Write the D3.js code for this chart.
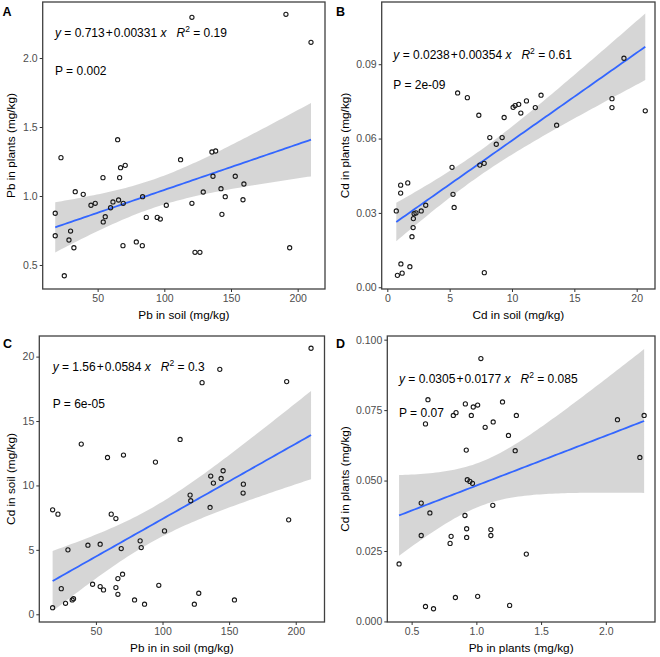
<!DOCTYPE html>
<html><head><meta charset="utf-8">
<script src="https://cdn.jsdelivr.net/npm/d3@7"></script>
<style>
body{margin:0;background:#fff}
svg{display:block}
text{font-family:"Liberation Sans",Arial,sans-serif}
</style>
</head><body>
<svg id="c" width="660" height="657"></svg>
<script>
// ---------------- DATA ----------------
// Panel A: Pb in soil vs Pb in plants
const pbSoilA = [120.7,191.2,210,65,22.5,112.2,135.7,138.5,67.2,70.7,54,66.5,136.5,153.2,159.7,33.2,39.2,142.5,145.7,129.2,83.7,61.5,65.7,48.2,45,59.7,69.2,101.5,120.7,159,18.2,55.7,86.5,94.7,97,143.2,54.2,18.2,29.7,28.5,32.2,25,69,79,83.5,123,126.7,194];
const pbPlantsA = [2.295,2.317,2.114,1.408,1.278,1.263,1.319,1.326,1.205,1.222,1.133,1.133,1.143,1.143,1.087,1.031,1.012,1.053,0.995,1.029,0.995,0.957,0.971,0.947,0.933,0.915,0.947,0.933,0.947,0.973,0.875,0.85,0.845,0.845,0.833,0.867,0.812,0.712,0.746,0.681,0.625,0.422,0.64,0.667,0.64,0.592,0.592,0.625];
// Panel B: Cd in soil vs Cd in plants
const cdSoilB = [0.72,1.07,1.64,1.07,2.15,2.3,2.72,3.08,2.09,2.07,1.98,1.09,1.81,0.81,1.19,7.78,5.19,5.27,5.36,7.42,7.77,5.64,6.42,7.34,8.22,9.21,8.74,9.37,10.09,10.25,10.54,10.71,11.16,11.87,12.33,13.58,18.98,18.02,18.02,20.69];
const cdPlantsB = [0.0308,0.0412,0.0421,0.038,0.0297,0.03,0.0308,0.0331,0.0277,0.0241,0.0204,0.0094,0.0083,0.0048,0.0057,0.0059,0.0484,0.0375,0.0322,0.0493,0.05,0.0784,0.0765,0.0694,0.0604,0.0604,0.0577,0.0685,0.0726,0.0733,0.0738,0.0703,0.0752,0.0725,0.0775,0.0654,0.0924,0.0761,0.0725,0.0712];
// Panel C: Pb in soil vs Cd in soil
const pbSoilC = [211.5,193.2,143,129.7,39,113.2,58.7,70.7,94.7,136.2,145.5,144,138.2,160.7,160.5,120.7,121.2,135.7,194.7,17.5,21.5,61.5,65,101.5,29,44,53.2,69,83.2,84,24,17.5,27.2,32.2,33.2,47.5,53.2,55.7,65,66.5,70,66.5,79,86.5,97.2,127.2,123.9,154];
const cdSoilC = [20.65,18.06,19.01,17.98,13.21,13.57,12.17,12.36,11.81,10.73,11.14,10.54,10.18,10.1,9.41,9.25,8.81,8.29,7.33,8.11,7.77,7.77,7.43,6.47,5.0,5.36,5.44,5.1,5.7,5.18,1.99,0.51,0.85,1.11,1.21,2.33,2.15,1.89,2.07,2.77,3.11,1.55,1.11,0.78,2.25,1.63,0.78,1.11];
// Panel D: Pb in plants vs Cd in plants
const pbPlantsD = [1.035,0.626,0.607,0.822,0.843,0.915,0.961,0.976,1.01,1.068,1.13,1.202,1.309,1.248,1.3,0.922,2.09,2.296,2.263,0.93,0.95,0.97,0.574,0.641,0.574,0.912,1.127,0.925,0.925,0.805,0.797,1.112,1.112,1.386,0.403,0.838,1.01,0.607,0.669,1.257];
const cdPlantsD = [0.0933,0.0787,0.0701,0.0731,0.0741,0.0772,0.0731,0.0761,0.0768,0.0689,0.0708,0.0779,0.0731,0.066,0.0606,0.0608,0.0716,0.0731,0.0582,0.0503,0.0497,0.049,0.042,0.0385,0.0305,0.0376,0.0412,0.0329,0.0298,0.0302,0.0277,0.0326,0.0305,0.0239,0.0204,0.0085,0.0089,0.0053,0.0045,0.0057];

// Regression coefficients (from the labels)
const intercepts = [0.713, 0.0238, 1.56, 0.0305];
const slopes = [0.00331, 0.00354, 0.0584, 0.0177];
const interceptLabels = ["0.713", "0.0238", "1.56", "0.0305"];
const slopeLabels = ["0.00331", "0.00354", "0.0584", "0.0177"];
const r2Labels = ["0.19", "0.61", "0.3", "0.085"];
const pLabels = ["0.002", "2e-09", "6e-05", "0.07"];

// Tick labels
const xTicksA = [50,100,150,200];
const yTicksA = [0.5,1.0,1.5,2.0];
const xTicksB = [0,5,10,15,20];
const yTicksB = [0.00,0.03,0.06,0.09];
const xTicksC = [50,100,150,200];
const yTicksC = [0,5,10,15,20];
const xTicksD = [0.5,1.0,1.5,2.0];
const yTicksD = [0.000,0.025,0.050,0.075,0.100];

// Axis domains
const xDomA = [8.8,220.5], yDomA = [0.326,2.406];
const xDomB = [-0.45,21.47], yDomB = [-0.0007,0.1151];
const xDomC = [7.5,221.6], yDomC = [-0.6,21.6];
const xDomD = [0.312,2.38], yDomD = [-0.0002,0.1013];

const panelLetters = ["A","B","C","D"];
const xTitles = ["Pb in soil (mg/kg)","Cd in soil (mg/kg)","Pb in in soil (mg/kg)","Pb in plants (mg/kg)"];
const yTitles = ["Pb in plants (mg/kg)","Cd in plants (mg/kg)","Cd in soil (mg/kg)","Cd in plants (mg/kg)"];

// ---------------- LAYOUT ----------------
const layout = [
  {l:42.7, r:325, t:2, b:289, yFmt:d3.format(".1f"), xFmt:d3.format("d"), eq:[55,37.3], p:[55,74.7], letter:[2.5,15.5], ytx:14.5},
  {l:381.7, r:655, t:2, b:289, yFmt:d3.format(".2f"), xFmt:d3.format("d"), eq:[393.3,59.3], p:[393.3,89], letter:[336,15.5], ytx:348.5},
  {l:39.3, r:324.5, t:336, b:622, yFmt:d3.format("d"), xFmt:d3.format("d"), eq:[52.7,370.7], p:[52.7,408], letter:[3,347.5], ytx:14.5},
  {l:387.3, r:655, t:336, b:622, yFmt:d3.format(".3f"), xFmt:d3.format(".1f"), eq:[399,382.7], p:[399,417], letter:[336,347.5], ytx:348.5}
];
const panelData = [
  {x:pbSoilA, y:pbPlantsA, xt:xTicksA, yt:yTicksA, xd:xDomA, yd:yDomA},
  {x:cdSoilB, y:cdPlantsB, xt:xTicksB, yt:yTicksB, xd:xDomB, yd:yDomB},
  {x:pbSoilC, y:cdSoilC, xt:xTicksC, yt:yTicksC, xd:xDomC, yd:yDomC},
  {x:pbPlantsD, y:cdPlantsD, xt:xTicksD, yt:yTicksD, xd:xDomD, yd:yDomD}
];

const svg = d3.select("#c");
const tickCol = "#4d4d4d";

function tq(df){ return 1.96 + 2.4/df; } // approx t(0.975, df)

panelData.forEach((pd, i) => {
  const L = layout[i];
  const x = d3.scaleLinear().domain(pd.xd).range([L.l, L.r]);
  const y = d3.scaleLinear().domain(pd.yd).range([L.b, L.t]);
  const g = svg.append("g");
  const clipId = "clip" + i;
  svg.append("clipPath").attr("id", clipId).append("rect")
    .attr("x", L.l).attr("y", L.t).attr("width", L.r - L.l).attr("height", L.b - L.t);

  // regression band (lm confidence interval)
  const a = intercepts[i], b = slopes[i];
  const n = pd.x.length;
  const xm = d3.mean(pd.x);
  const sxx = d3.sum(pd.x, v => (v - xm) * (v - xm));
  const sse = d3.sum(pd.x.map((v, k) => { const r = pd.y[k] - (a + b * v); return r * r; }));
  const s = Math.sqrt(sse / (n - 2));
  const t = tq(n - 2);
  const [xmin, xmax] = d3.extent(pd.x);
  const grid = d3.range(0, 81).map(k => xmin + (xmax - xmin) * k / 80);
  const band = grid.map(v => {
    const se = s * Math.sqrt(1 / n + (v - xm) * (v - xm) / sxx);
    const f = a + b * v;
    return {x: v, lo: f - t * se, hi: f + t * se, f: f};
  });
  const plot = g.append("g").attr("clip-path", `url(#${clipId})`);
  plot.append("path").datum(band)
    .attr("d", d3.area().x(d => x(d.x)).y0(d => y(d.lo)).y1(d => y(d.hi)))
    .attr("fill", "#999999").attr("fill-opacity", 0.4);
  plot.append("path").datum(band)
    .attr("d", d3.line().x(d => x(d.x)).y(d => y(d.f)))
    .attr("fill", "none").attr("stroke", "#3366FF").attr("stroke-width", 1.8);

  // points
  plot.selectAll("circle").data(pd.x.map((v, k) => [v, pd.y[k]])).join("circle")
    .attr("cx", d => x(d[0])).attr("cy", d => y(d[1])).attr("r", 2.1)
    .attr("fill", "none").attr("stroke", "#1a1a1a").attr("stroke-width", 1.1);

  // border
  g.append("rect").attr("x", L.l).attr("y", L.t).attr("width", L.r - L.l).attr("height", L.b - L.t)
    .attr("fill", "none").attr("stroke", "#404040").attr("stroke-width", 1.3);

  // axes
  const xa = g.append("g").attr("transform", `translate(0,${L.b})`)
    .call(d3.axisBottom(x).tickValues(pd.xt).tickFormat(L.xFmt).tickSizeOuter(0).tickSize(3).tickPadding(3));
  const ya = g.append("g").attr("transform", `translate(${L.l},0)`)
    .call(d3.axisLeft(y).tickValues(pd.yt).tickFormat(L.yFmt).tickSizeOuter(0).tickSize(3).tickPadding(2));
  [xa, ya].forEach(ax => {
    ax.select(".domain").remove();
    ax.selectAll(".tick line").attr("stroke", "#333").attr("stroke-width", 1);
    ax.selectAll(".tick text").attr("fill", tickCol).style("font-size", "10.5px")
      .style("font-family", '"Liberation Sans",Arial,sans-serif');
  });

  // axis titles
  g.append("text").attr("x", (L.l + L.r) / 2).attr("y", L.b + 30)
    .attr("text-anchor", "middle").style("font-size", "11.8px").attr("fill", "#000").text(xTitles[i]);
  g.append("text").attr("transform", `translate(${L.ytx},${(L.t + L.b) / 2}) rotate(-90)`)
    .attr("text-anchor", "middle").style("font-size", "11.8px").attr("fill", "#000").text(yTitles[i]);

  // panel letter
  g.append("text").attr("x", L.letter[0]).attr("y", L.letter[1])
    .style("font-size", "12.5px").style("font-weight", "bold").text(panelLetters[i]);

  // equation
  const eq = g.append("text").attr("x", L.eq[0]).attr("y", L.eq[1]).style("font-size", "12px").attr("fill", "#000");
  eq.append("tspan").style("font-style", "italic").text("y");
  eq.append("tspan").text(" = " + interceptLabels[i] + "\u200a+\u200a" + slopeLabels[i] + " ");
  eq.append("tspan").style("font-style", "italic").text("x");
  eq.append("tspan").text("\u00a0\u00a0\u00a0");
  eq.append("tspan").style("font-style", "italic").text("R");
  eq.append("tspan").attr("dy", -5).style("font-size", "8.5px").text("2");
  eq.append("tspan").attr("dy", 5).text(" = " + r2Labels[i]);

  g.append("text").attr("x", L.p[0]).attr("y", L.p[1]).style("font-size", "12px").text("P = " + pLabels[i]);
});
</script>
</body></html>
